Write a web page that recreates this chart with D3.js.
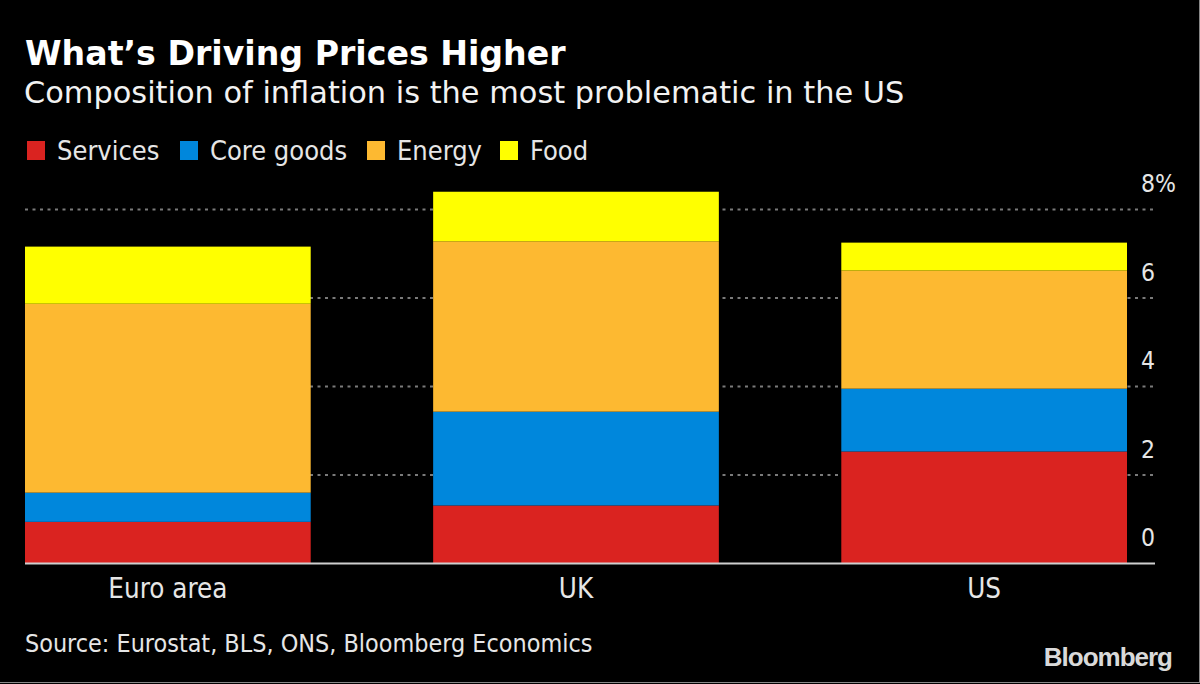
<!DOCTYPE html>
<html>
<head>
<meta charset="utf-8">
<script src="https://cdn.jsdelivr.net/npm/d3@7"></script>
<style>
  html, body { margin: 0; padding: 0; background: #000; }
  svg { display: block; }
  text { font-family: "DejaVu Sans Condensed", "Liberation Sans Narrow", "Noto Sans", sans-serif; }
</style>
</head>
<body>
<div id="chart"></div>
<script>
// data
var categories = ["Euro area", "UK", "US"];
var seriesNames = ["Services", "Core goods", "Energy", "Food"];
var services = [0.93, 1.30, 2.52];
var coreGoods = [0.66, 2.12, 1.42];
var energy = [4.27, 3.85, 2.67];
var food = [1.29, 1.12, 0.63];
var yTicks = [0, 2, 4, 6, 8];
var colors = ["#da2320", "#0087dc", "#fdb931", "#ffff00"];

var svgWidth = 1200;
var svgHeight = 684;

var svg = d3.select("#chart")
  .append("svg")
  .attr("width", svgWidth)
  .attr("height", svgHeight);

svg.append("rect")
  .attr("width", svgWidth)
  .attr("height", svgHeight)
  .attr("fill", "#000");

// frame lines at right and bottom edge
svg.append("line")
  .attr("x1", 1199.5).attr("x2", 1199.5)
  .attr("y1", 0).attr("y2", 683)
  .attr("stroke", "#888").attr("stroke-width", 1);
svg.append("line")
  .attr("x1", 0).attr("x2", 1200)
  .attr("y1", 682.5).attr("y2", 682.5)
  .attr("stroke", "#888").attr("stroke-width", 1);

// titles
svg.append("text")
  .attr("x", 25)
  .attr("y", 65)
  .attr("fill", "#fff")
  .attr("font-size", 33.2)
  .attr("font-weight", "bold")
  .style("font-family", "'DejaVu Sans', sans-serif")
  .text("What’s Driving Prices Higher");

svg.append("text")
  .attr("x", 24)
  .attr("y", 103)
  .attr("fill", "#f2f2f2")
  .attr("font-size", 30.4)
  .style("font-family", "'DejaVu Sans', sans-serif")
  .text("Composition of inflation is the most problematic in the US");

// legend
var legendX = [57, 210, 397, 530];
var legend = svg.append("g");
seriesNames.forEach(function(name, i) {
  legend.append("rect")
    .attr("x", legendX[i] - 30)
    .attr("y", 141)
    .attr("width", 18)
    .attr("height", 19)
    .attr("fill", colors[i]);
  legend.append("text")
    .attr("x", legendX[i])
    .attr("y", 160)
    .attr("fill", "#e6e6e6")
    .attr("font-size", 27)
    .text(name);
});

// scales
var x = d3.scaleBand()
  .domain(categories)
  .range([25, 1127])
  .paddingInner(0.3)
  .paddingOuter(0);

var y = d3.scaleLinear()
  .domain([0, 8])
  .range([563, 209]);

// gridlines
var grid = svg.append("g");
grid.selectAll("line")
  .data(yTicks.filter(function(d) { return d > 0; }))
  .enter()
  .append("line")
  .attr("x1", 25)
  .attr("x2", 1155)
  .attr("y1", function(d) { return y(d) + 0.5; })
  .attr("y2", function(d) { return y(d) + 0.5; })
  .attr("stroke", "#7a7a7a")
  .attr("stroke-width", 2)
  .attr("stroke-dasharray", "3,4.5");

// stacked bars
var table = categories.map(function(c, i) {
  return {
    category: c,
    "Services": services[i],
    "Core goods": coreGoods[i],
    "Energy": energy[i],
    "Food": food[i]
  };
});

var stacked = d3.stack().keys(seriesNames)(table);

var layers = svg.append("g")
  .selectAll("g")
  .data(stacked)
  .enter()
  .append("g")
  .attr("fill", function(d, i) { return colors[i]; });

layers.selectAll("rect")
  .data(function(d) { return d; })
  .enter()
  .append("rect")
  .attr("x", function(d) { return x(d.data.category); })
  .attr("width", x.bandwidth())
  .attr("y", function(d) { return y(d[1]); })
  .attr("height", function(d) { return y(d[0]) - y(d[1]); });

// baseline
svg.append("line")
  .attr("x1", 25)
  .attr("x2", 1155)
  .attr("y1", y(0) + 0.5)
  .attr("y2", y(0) + 0.5)
  .attr("stroke", "#cfcfcf")
  .attr("stroke-width", 2);

// y tick labels (right side, above each line)
svg.append("g")
  .selectAll("text")
  .data(yTicks)
  .enter()
  .append("text")
  .attr("x", 1141)
  .attr("y", function(d) { return y(d) - 17; })
  .attr("fill", "#e6e6e6")
  .attr("font-size", 24.5)
  .text(function(d) { return d === 8 ? d + "%" : d; });

// category labels
svg.append("g")
  .selectAll("text")
  .data(categories)
  .enter()
  .append("text")
  .attr("x", function(d) { return x(d) + x.bandwidth() / 2; })
  .attr("y", 598)
  .attr("text-anchor", "middle")
  .attr("fill", "#e6e6e6")
  .attr("font-size", 27.5)
  .text(function(d) { return d; });

// footer
svg.append("text")
  .attr("x", 25)
  .attr("y", 652)
  .attr("fill", "#e6e6e6")
  .attr("font-size", 24.9)
  .text("Source: Eurostat, BLS, ONS, Bloomberg Economics");

svg.append("text")
  .attr("x", 1172)
  .attr("y", 666)
  .attr("text-anchor", "end")
  .attr("fill", "#d9d9d9")
  .attr("font-size", 26)
  .attr("font-weight", "bold")
  .attr("letter-spacing", -1)
  .style("font-family", "'Liberation Sans', Arial, sans-serif")
  .text("Bloomberg");
</script>
</body>
</html>
